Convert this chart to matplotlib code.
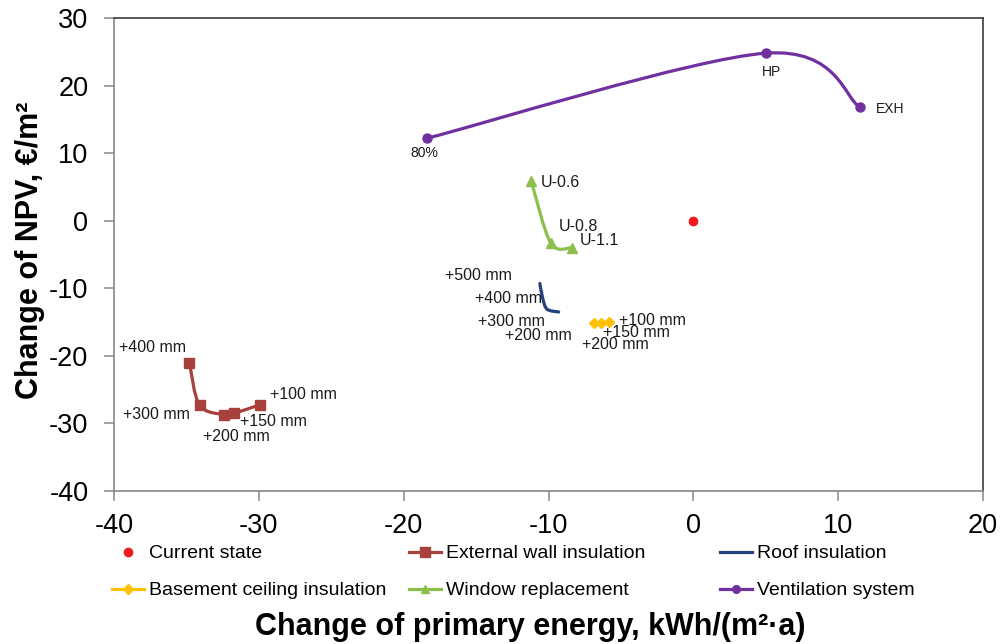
import matplotlib
matplotlib.use("Agg")
import matplotlib.pyplot as plt
from matplotlib.path import Path
from matplotlib.patches import PathPatch
from matplotlib.lines import Line2D

plt.rcParams['font.family'] = ['Liberation Sans', 'DejaVu Sans']
plt.rcParams['axes.unicode_minus'] = False

# dane
current_x = [0.0]
current_y = [0.0]

wall_x = [-34.8, -34.1, -32.4, -31.7, -29.9]
wall_y = [-21.0, -27.3, -28.7, -28.5, -27.2]
wall_labels = ['+400 mm', '+300 mm', '+200 mm', '+150 mm', '+100 mm']

roof_x = [-10.6, -10.4, -10.1, -9.3]
roof_y = [-9.3, -11.5, -13.1, -13.5]
roof_labels = ['+500 mm', '+400 mm', '+300 mm', '+200 mm']

base_x = [-5.85, -6.35, -6.85]
base_y = [-15.0, -15.1, -15.2]
base_labels = ['+100 mm', '+150 mm', '+200 mm']

window_x = [-11.2, -9.85, -8.4]
window_y = [5.9, -3.3, -4.0]
window_labels = ['U-0.6', 'U-0.8', 'U-1.1']

vent_x = [-18.4, 5.0, 11.5]
vent_y = [12.2, 24.8, 16.8]
vent_labels = ['80%', 'HP', 'EXH']

x_ticks = [-40, -30, -20, -10, 0, 10, 20]
y_ticks = [-40, -30, -20, -10, 0, 10, 20, 30]


def smooth_path(xs, ys):
    # wygładzona linia jak w Excelu (Catmull-Rom -> krzywe Beziera)
    pts = list(zip(xs, ys))
    n = len(pts)
    verts = [pts[0]]
    codes = [Path.MOVETO]
    for i in range(n - 1):
        p0 = pts[i - 1] if i > 0 else pts[i]
        p1 = pts[i]
        p2 = pts[i + 1]
        p3 = pts[i + 2] if i + 2 < n else pts[i + 1]
        c1 = (p1[0] + (p2[0] - p0[0]) / 6, p1[1] + (p2[1] - p0[1]) / 6)
        c2 = (p2[0] - (p3[0] - p1[0]) / 6, p2[1] - (p3[1] - p1[1]) / 6)
        verts += [c1, c2, p2]
        codes += [Path.CURVE4] * 3
    return Path(verts, codes)


def draw_series(ax, xs, ys, color, marker=None, ms=6):
    patch = PathPatch(smooth_path(xs, ys), facecolor='none', edgecolor=color,
                      lw=2.3, capstyle='round', joinstyle='round', zorder=3)
    ax.add_patch(patch)
    if marker:
        ax.plot(xs, ys, linestyle='none', marker=marker, ms=ms, color=color,
                markeredgecolor=color, zorder=4)


def add_labels(ax, xs, ys, labels, offsets, size=11.5):
    for x, y, txt, (dx, dy, ha) in zip(xs, ys, labels, offsets):
        ax.annotate(txt, (x, y), xytext=(dx, dy), textcoords='offset pixels',
                    ha=ha, va='center', fontsize=size, color='#1a1a1a', zorder=5)


c_current = '#ee1c1c'
c_wall = '#a8403b'
c_roof = '#24427e'
c_base = '#ffc000'
c_window = '#8dbf4c'
c_vent = '#7030a0'

fig = plt.figure(figsize=(10.01, 6.44), dpi=100)
ax = fig.add_axes([0.114, 0.2376, 0.868, 0.7344])

ax.plot(current_x, current_y, 'o', color=c_current, ms=6, zorder=4)
draw_series(ax, wall_x, wall_y, c_wall, 's', 7)
draw_series(ax, roof_x, roof_y, c_roof)
draw_series(ax, base_x, base_y, c_base, 'D', 5.5)
draw_series(ax, window_x, window_y, c_window, '^', 7.5)
draw_series(ax, vent_x, vent_y, c_vent, 'o', 6.5)

add_labels(ax, wall_x, wall_y, wall_labels,
           [(-3, 15, 'right'), (-10, -9, 'right'), (12, -22, 'center'),
            (6, -8, 'left'), (10, 10, 'left')])
add_labels(ax, roof_x, roof_y, roof_labels,
           [(-28, 8, 'right'), (-1, 0, 'right'), (-2, -12, 'right'),
            (13, -24, 'right')])
add_labels(ax, base_x, base_y, base_labels,
           [(10, 2, 'left'), (2, -10, 'left'), (-12, -21, 'left')])
add_labels(ax, window_x, window_y, window_labels,
           [(10, -2, 'left'), (8, 17, 'left'), (8, 7, 'left')])
add_labels(ax, vent_x, vent_y, vent_labels,
           [(-3, -15, 'center'), (6, -19, 'center'), (16, -2, 'left')], size=10)

ax.set_xlim(-40, 20)
ax.set_ylim(-40, 30)
ax.set_xticks(x_ticks)
ax.set_yticks(y_ticks)
ax.tick_params(axis='both', labelsize=19.5, color='#888888', length=7, width=1.1)
ax.tick_params(axis='y', pad=11.5)
ax.tick_params(axis='x', pad=8.5)
for side in ['left', 'bottom']:
    ax.spines[side].set_color('#888888')
    ax.spines[side].set_linewidth(1.2)
for side in ['top', 'right']:
    ax.spines[side].set_color('#3c3c3c')
    ax.spines[side].set_linewidth(1.2)

fig.text(0.030, 1 - 250 / 644, 'Change of NPV, €/m²', rotation=90,
         ha='center', va='center', fontsize=22, fontweight='bold')
fig.text(0.5295, 1 - 627 / 644, 'Change of primary energy, kWh/(m²·a)',
         ha='center', va='center', fontsize=22, fontweight='bold')

# legenda w trzech kolumnach
def leg_handle(color, marker=None, line=True, ms=6):
    return Line2D([], [], color=color, lw=2.3 if line else 0, marker=marker,
                  ms=ms, markeredgecolor=color)

columns = [
    ([leg_handle(c_current, 'o', False, 6), leg_handle(c_base, 'D', True, 5)],
     ['Current state', 'Basement ceiling insulation'], 0.112),
    ([leg_handle(c_wall, 's', True, 6.5), leg_handle(c_window, '^', True, 6)],
     ['External wall insulation', 'Window replacement'], 0.409),
    ([leg_handle(c_roof), leg_handle(c_vent, 'o', True, 5.5)],
     ['Roof insulation', 'Ventilation system'], 0.719),
]
for handles, labels, x0 in columns:
    fig.legend(handles, labels, loc='upper left', bbox_to_anchor=(x0, 0.154),
               frameon=False, fontsize=14, handlelength=1.65, handletextpad=0.25,
               labelspacing=1.0, borderpad=0, borderaxespad=0)

fig.savefig('out.png', dpi=100)
